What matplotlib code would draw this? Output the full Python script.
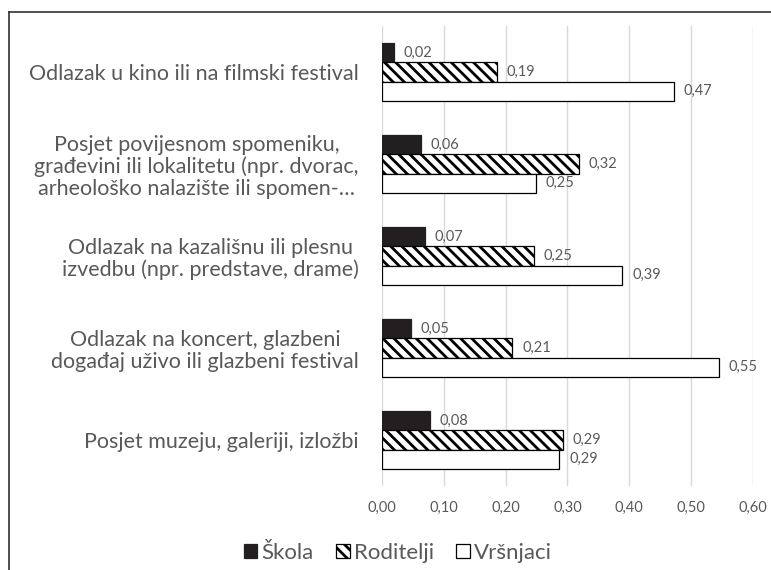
import matplotlib
matplotlib.use("Agg")
import matplotlib.pyplot as plt
import numpy as np

# categories, top to bottom as in the chart
categories = [
    "Odlazak u kino ili na filmski festival",
    "Posjet povijesnom spomeniku,\ngrađevini ili lokalitetu (npr. dvorac,\narheološko nalazište ili spomen-…",
    "Odlazak na kazališnu ili plesnu\nizvedbu (npr. predstave, drame)",
    "Odlazak na koncert, glazbeni\ndogađaj uživo ili glazbeni festival",
    "Posjet muzeju, galeriji, izložbi",
]
series_names = ["Škola", "Roditelji", "Vršnjaci"]
skola = [0.019, 0.063, 0.069, 0.046, 0.077]
roditelji = [0.1852, 0.319, 0.246, 0.211, 0.293]
vrsnjaci = [0.473, 0.249, 0.389, 0.546, 0.287]
xticks = [0.0, 0.1, 0.2, 0.3, 0.4, 0.5, 0.6]

gray = "#595959"
plt.rcParams["font.family"] = ["Lato", "DejaVu Sans"]
plt.rcParams["hatch.linewidth"] = 2.0
plt.rcParams["hatch.color"] = "black"

W, H = 771, 570
fig = plt.figure(figsize=(W / 100, H / 100), dpi=100)
ax = fig.add_axes([382.3 / W, 1 - 486 / H, 370.2 / W, 460 / H])

y = np.arange(len(categories))
h = 0.207
styles = [
    dict(color="#231f20", edgecolor="#231f20"),
    dict(color="white", edgecolor="black", hatch="\\\\\\"),
    dict(color="white", edgecolor="black"),
]
for k, (vals, st) in enumerate(zip([skola, roditelji, vrsnjaci], styles)):
    bars = ax.barh(y + (k - 1) * h, vals, height=h, linewidth=0.9,
                   label=series_names[k], zorder=3, **st)
    ax.bar_label(bars, labels=[f"{v:.2f}".replace(".", ",") for v in vals],
                 padding=7, color=gray, fontsize=10.5)

ax.set_xlim(0, 0.6)
ax.set_ylim(len(categories) - 0.5, -0.5)
ax.set_xticks(xticks)
ax.set_xticklabels([f"{t:.2f}".replace(".", ",") for t in xticks])
ax.set_yticks(y)
ax.set_yticklabels(categories)
for lbl in ax.get_yticklabels():
    lbl.set_multialignment("center")
    lbl.set_linespacing(1.1)
ax.tick_params(axis="x", length=0, pad=11, labelsize=10.5, labelcolor=gray)
ax.tick_params(axis="y", length=0, pad=17, labelsize=15.5, labelcolor=gray)
ax.grid(axis="x", color="#d9d9d9", linewidth=1)
ax.set_axisbelow(True)
for s in ax.spines.values():
    s.set_visible(False)

ax.legend(loc="center", bbox_to_anchor=(398 / W, 1 - 553 / H),
          bbox_transform=fig.transFigure, ncol=3, frameon=False,
          fontsize=16, labelcolor=gray, handlelength=0.6, handleheight=0.6,
          handletextpad=0.2, columnspacing=1.0)

# outer chart border (only top and left visible in the crop)
fig.add_artist(plt.Line2D([9 / W, 9 / W], [0, 1 - 12 / H], transform=fig.transFigure,
                          color="#303030", linewidth=1.2))
fig.add_artist(plt.Line2D([9 / W, 1], [1 - 12 / H, 1 - 12 / H], transform=fig.transFigure,
                          color="#303030", linewidth=1.2))

fig.savefig("out.png", dpi=100)
